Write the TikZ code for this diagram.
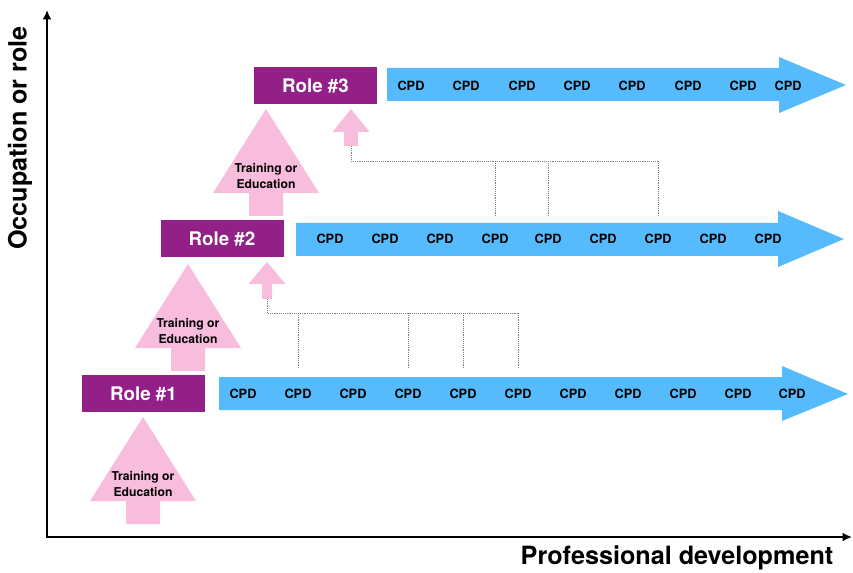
\documentclass[tikz,border=0pt]{standalone}
\usepackage{fontspec}
\setmainfont{TeX Gyre Heros}
\usepackage{tikz}
\usetikzlibrary{arrows.meta, calc}
\definecolor{rolepurple}{RGB}{146,32,135}
\definecolor{cpdblue}{RGB}{86,187,252}
\definecolor{liftpink}{RGB}{248,188,220}

\begin{document}
\begin{tikzpicture}[x=0.03cm, y=-0.03cm]
	\tikzset{role/.style={fill=rolepurple, text=white, font=\fontsize{16}{18}\selectfont\bfseries, minimum width=3.69cm, minimum height=1.11cm, inner sep=0pt}}
	\tikzset{cpd/.style={font=\fontsize{10.9}{12}\selectfont\bfseries, inner sep=0pt}}
	\tikzset{train/.style={font=\fontsize{10.4}{13.6}\selectfont\bfseries, align=center, text=black, inner sep=0pt}}
	\tikzset{axis/.style={line width=1.7pt, {Latex[length=8pt, width=7.5pt]}-{Latex[length=8pt, width=7.5pt]}}}
	\tikzset{axislabel/.style={font=\fontsize{21.5}{24}\selectfont\bfseries}}
	\tikzset{link/.style={densely dotted, gray, line width=0.6pt}}
	\tikzset{band/.style={fill=cpdblue}}
	\tikzset{lift/.style={fill=liftpink}}

	\useasboundingbox (0,0) rectangle (853,573);

	% axes
	\coordinate (ytop) at (47,10);
	\coordinate (origin) at (47,537);
	\coordinate (xend) at (852,537);
	\draw[axis] (ytop) -- (origin) -- (xend);
	\node (ylab) [axislabel, rotate=90] at (20,138) {Occupation or role};
	\node (xlab) [axislabel] at (677,558) {Professional development};

	% CPD bands
	\fill[band] (387,68) -- (779,68) -- (779,57) -- (846,85) -- (779,113) -- (779,101) -- (387,101) -- cycle;
	\fill[band] (296,223) -- (778,223) -- (778,211) -- (844,239) -- (778,267) -- (778,256) -- (296,256) -- cycle;
	\fill[band] (219,377) -- (782,377) -- (782,366) -- (848,394) -- (782,421) -- (782,410) -- (219,410) -- cycle;

	% training or education
	\foreach \ax/\ay/\n in {143/417/1, 188/264/2, 266/109/3} {
		\fill[lift] (\ax,\ay) -- ++(53,84) -- ++(-36,0) -- ++(0,23) -- ++(-34,0) -- ++(0,-23) -- ++(-36,0) -- cycle;
		\node (train\n) [train] at (\ax,\ay+67) {Training or\\Education};
	}
	% small lifts from CPD
	\fill[lift] (351,109) -- ++(18.5,23) -- ++(-11.5,0) -- ++(0,14) -- ++(-14,0) -- ++(0,-14) -- ++(-11.5,0) -- cycle;
	\coordinate (up3) at (351,146);
	\fill[lift] (267,262) -- ++(18.5,22) -- ++(-13.5,0) -- ++(0,15) -- ++(-10,0) -- ++(0,-15) -- ++(-13.5,0) -- cycle;
	\coordinate (up2) at (267,299);

	\node (role3) [role] at (315.5,85.5) {Role \#3};
	\node (role2) [role] at (222,238.5) {Role \#2};
	\node (role1) [role] at (143.5,393.5) {Role \#1};

	\foreach \x [count=\i] in {411,466,522,577,632,688,743,788}
		\node (cpdc-\i) [cpd] at (\x,86) {CPD};
	\foreach \x [count=\i] in {330,385,440,495,548,603,658,713,768}
		\node (cpdb-\i) [cpd] at (\x,239) {CPD};
	\foreach \x [count=\i] in {243,298,353,408,463,518,573,628,683,738,792}
		\node (cpda-\i) [cpd] at (\x,394) {CPD};

	% dotted links
	\coordinate (bus3) at (658,161);
	\draw[link] (up3) |- (bus3);
	\foreach \k in {4,5,7}
		\draw[link] (cpdb-\k |- bus3) -- (cpdb-\k |- 0,217);
	\coordinate (bus2) at (518,313);
	\draw[link] (up2) |- (bus2);
	\foreach \k in {2,4,5,6}
		\draw[link] (cpda-\k |- bus2) -- (cpda-\k |- 0,369);
\end{tikzpicture}
\end{document}
